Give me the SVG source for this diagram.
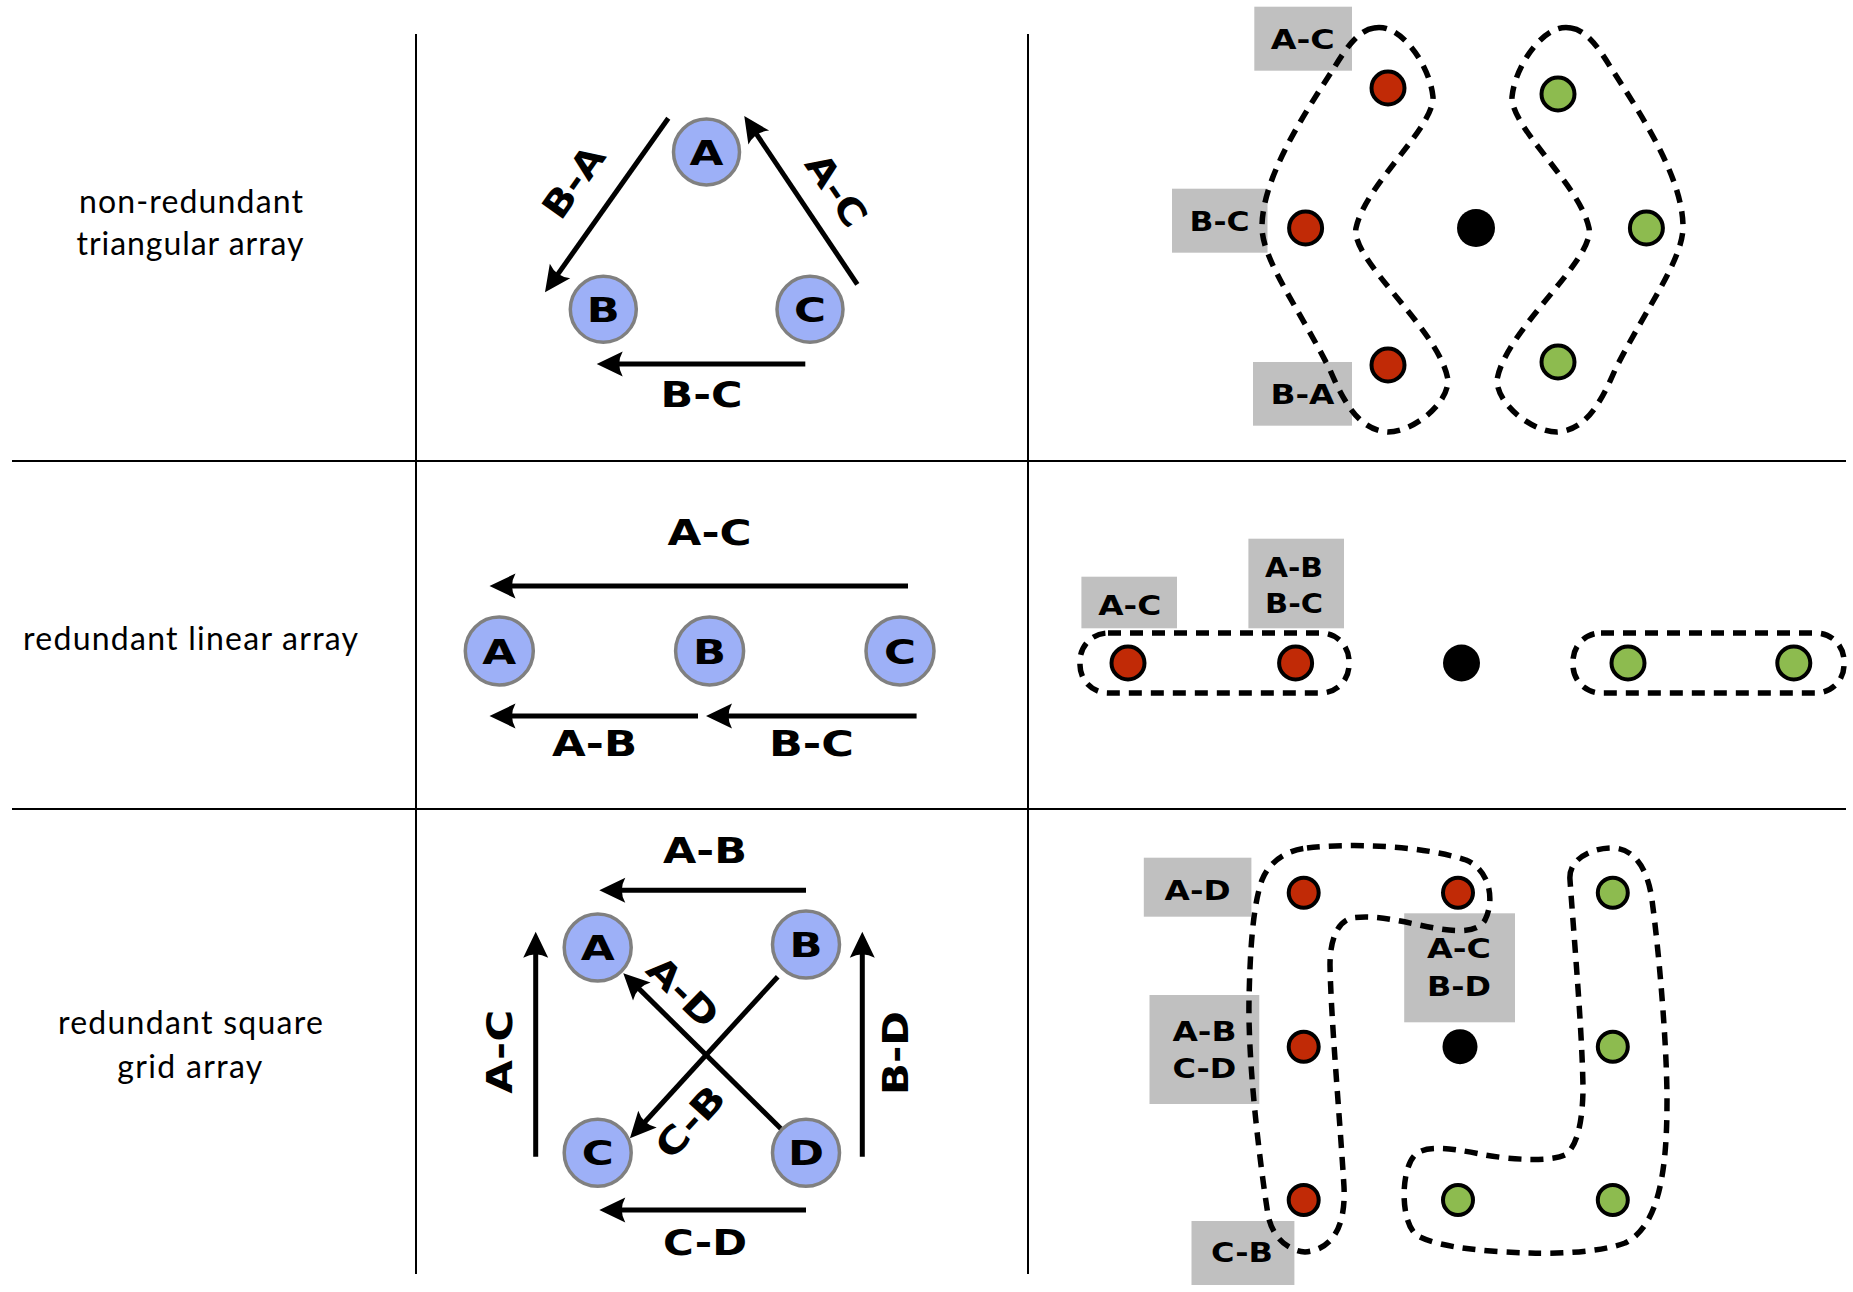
<svg xmlns="http://www.w3.org/2000/svg" width="1853" height="1292" viewBox="0 0 1853 1292">
<defs>
<marker id="ah" markerUnits="userSpaceOnUse" markerWidth="30" markerHeight="30" viewBox="0 -15 30 30" refX="8" refY="0" orient="auto" overflow="visible">
<path d="M26,0 L0,-12.5 Q7,0 0,12.5 Z" fill="#000"/>
</marker>
<style>
.grid{stroke:#000;stroke-width:2}
.row{font-family:Lato,"Open Sans",sans-serif;font-size:32px;fill:#000;text-anchor:middle}
.node circle{fill:#9db0f7;stroke:#808080;stroke-width:3.5}
.node text{font-family:"DejaVu Sans",sans-serif;font-weight:bold;font-size:34px;text-anchor:middle;fill:#000}
.arrow{stroke:#000;stroke-width:5;fill:none;marker-end:url(#ah)}
.lbl{font-family:"DejaVu Sans",sans-serif;font-weight:bold;font-size:36px;text-anchor:middle;fill:#000}
.box rect{fill:#c0c0c0}
.box text{font-family:"DejaVu Sans",sans-serif;font-weight:bold;font-size:27px;text-anchor:middle;fill:#000}
.loop{fill:none;stroke:#000;stroke-width:5.5;stroke-dasharray:13 9}
.red{fill:#c12a06;stroke:#000;stroke-width:4}
.grn{fill:#8dbb4f;stroke:#000;stroke-width:4}
.blk{fill:#000}
</style>
</defs>
<rect width="1853" height="1292" fill="#fff"/>

<g id="grid">
<line class="grid" x1="416" y1="34" x2="416" y2="1274"/>
<line class="grid" x1="1028" y1="34" x2="1028" y2="1274"/>
<line class="grid" x1="12" y1="461" x2="1846" y2="461"/>
<line class="grid" x1="12" y1="809" x2="1846" y2="809"/>
</g>

<g id="row-labels">
<text class="row" x="191" y="212.7" textLength="224">non-redundant</text>
<text class="row" x="190" y="255" textLength="227">triangular array</text>
<text class="row" x="190.6" y="650" textLength="335">redundant linear array</text>
<text class="row" x="190.4" y="1034" textLength="265">redundant square</text>
<text class="row" x="189.8" y="1078" textLength="145">grid array</text>
</g>

<g id="connectors">
<path class="arrow" d="M668.3,118.3 L555.4,277.6"/>
<path class="arrow" d="M857.3,284.3 L754.3,130.9"/>
<path class="arrow" d="M805.3,364 L614.7,364"/>
<path class="arrow" d="M908,586 L507.5,586"/>
<path class="arrow" d="M698,716 L507.5,716"/>
<path class="arrow" d="M916.6,716 L724,716"/>
<path class="arrow" d="M806,890.3 L617.3,890.3"/>
<path class="arrow" d="M806,1210 L617.3,1210"/>
<path class="arrow" d="M535.7,1156.7 L535.7,949.7"/>
<path class="arrow" d="M862.3,1156.7 L862.3,949.7"/>
<path class="arrow" d="M784,1131.7 L636.1,985.9"/>
<path class="arrow" d="M777.7,976.7 L642.1,1125"/>
</g>

<g id="connector-labels">
<text class="lbl" x="701.5" y="406.7" textLength="82" lengthAdjust="spacingAndGlyphs">B-C</text>
<text class="lbl" transform="translate(573.3,181.7) rotate(-54.7)" x="0" y="13" textLength="80" lengthAdjust="spacingAndGlyphs">B-A</text>
<text class="lbl" transform="translate(836.7,190) rotate(56)" x="0" y="13" textLength="80" lengthAdjust="spacingAndGlyphs">A-C</text>
<text class="lbl" x="709.6" y="544.5" textLength="84" lengthAdjust="spacingAndGlyphs">A-C</text>
<text class="lbl" x="594.6" y="756" textLength="85" lengthAdjust="spacingAndGlyphs">A-B</text>
<text class="lbl" x="811.4" y="756" textLength="85" lengthAdjust="spacingAndGlyphs">B-C</text>
<text class="lbl" x="705" y="862.7" textLength="84" lengthAdjust="spacingAndGlyphs">A-B</text>
<text class="lbl" x="705" y="1255" textLength="84" lengthAdjust="spacingAndGlyphs">C-D</text>
<text class="lbl" transform="translate(499,1051.7) rotate(-90)" x="0" y="13" textLength="84" lengthAdjust="spacingAndGlyphs">A-C</text>
<text class="lbl" transform="translate(895,1053) rotate(-90)" x="0" y="13" textLength="84" lengthAdjust="spacingAndGlyphs">B-D</text>
<text class="lbl" transform="translate(683.3,991.7) rotate(44.6)" x="0" y="13" textLength="84" lengthAdjust="spacingAndGlyphs">A-D</text>
<text class="lbl" transform="translate(690,1121.7) rotate(-47.6)" x="0" y="13" textLength="84" lengthAdjust="spacingAndGlyphs">C-B</text>
</g>

<g id="tri-A" class="node"><circle cx="706.5" cy="152" r="33"/><text x="706.5" y="164.5" textLength="34" lengthAdjust="spacingAndGlyphs">A</text></g>
<g id="tri-B" class="node"><circle cx="603.3" cy="309.3" r="33"/><text x="603.3" y="321.8" textLength="33" lengthAdjust="spacingAndGlyphs">B</text></g>
<g id="tri-C" class="node"><circle cx="810" cy="309.3" r="33"/><text x="810" y="321.8" textLength="32" lengthAdjust="spacingAndGlyphs">C</text></g>

<g id="lin-A" class="node"><circle cx="499.3" cy="651" r="34"/><text x="499.3" y="663.5" textLength="34" lengthAdjust="spacingAndGlyphs">A</text></g>
<g id="lin-B" class="node"><circle cx="709.6" cy="651" r="34"/><text x="709.6" y="663.5" textLength="33" lengthAdjust="spacingAndGlyphs">B</text></g>
<g id="lin-C" class="node"><circle cx="900" cy="651" r="34"/><text x="900" y="663.5" textLength="32" lengthAdjust="spacingAndGlyphs">C</text></g>

<g id="sq-A" class="node"><circle cx="597.7" cy="947.5" r="33.5"/><text x="597.7" y="960" textLength="34" lengthAdjust="spacingAndGlyphs">A</text></g>
<g id="sq-B" class="node"><circle cx="806" cy="944.5" r="33.5"/><text x="806" y="957" textLength="33" lengthAdjust="spacingAndGlyphs">B</text></g>
<g id="sq-C" class="node"><circle cx="597.7" cy="1152.7" r="33.5"/><text x="597.7" y="1165.2" textLength="32" lengthAdjust="spacingAndGlyphs">C</text></g>
<g id="sq-D" class="node"><circle cx="806" cy="1152.7" r="33.5"/><text x="806" y="1165.2" textLength="36" lengthAdjust="spacingAndGlyphs">D</text></g>

<g id="tri-uv">
<g class="box">
<rect x="1254.3" y="6.7" width="97.7" height="64"/><text x="1302.7" y="49.3" textLength="64" lengthAdjust="spacingAndGlyphs">A-C</text>
<rect x="1172" y="188.7" width="95.5" height="64"/><text x="1219.5" y="230.7" textLength="60" lengthAdjust="spacingAndGlyphs">B-C</text>
<rect x="1253" y="362" width="99" height="63.7"/><text x="1302.5" y="404.3" textLength="64" lengthAdjust="spacingAndGlyphs">B-A</text>
</g>
<path class="loop" d="M1374,28 C1400,22 1430,65 1433,97 C1434,128 1365,185 1356,228 C1350,260 1440,330 1448,380 C1448,405 1412,432 1388,432 C1360,430 1345,405 1330,370 C1300,310 1262,260 1262,227 C1262,180 1300,120 1334,68 C1345,50 1358,30 1374,28 Z"/>
<path class="loop" transform="matrix(-1,0,0,1,2945,0)" d="M1374,28 C1400,22 1430,65 1433,97 C1434,128 1365,185 1356,228 C1350,260 1440,330 1448,380 C1448,405 1412,432 1388,432 C1360,430 1345,405 1330,370 C1300,310 1262,260 1262,227 C1262,180 1300,120 1334,68 C1345,50 1358,30 1374,28 Z"/>
<circle class="red" cx="1388" cy="88" r="16.5"/>
<circle class="red" cx="1305.6" cy="228" r="16.5"/>
<circle class="red" cx="1388" cy="365" r="16.5"/>
<circle class="blk" cx="1476" cy="228" r="19"/>
<circle class="grn" cx="1558" cy="94" r="16.5"/>
<circle class="grn" cx="1646.4" cy="228" r="16.5"/>
<circle class="grn" cx="1558" cy="362" r="16.5"/>
</g>

<g id="lin-uv">
<g class="box">
<rect x="1081.4" y="576.7" width="95.6" height="51.6"/><text x="1129.7" y="615" textLength="63" lengthAdjust="spacingAndGlyphs">A-C</text>
<rect x="1248.4" y="538.7" width="95.6" height="89.6"/><text x="1294" y="576.7" textLength="58" lengthAdjust="spacingAndGlyphs">A-B</text><text x="1294" y="612.7" textLength="58" lengthAdjust="spacingAndGlyphs">B-C</text>
</g>
<rect class="loop" x="1080" y="633" width="269" height="60" rx="28" ry="28"/>
<rect class="loop" x="1573" y="633" width="271" height="60" rx="28" ry="28"/>
<circle class="red" cx="1128" cy="663" r="16.5"/>
<circle class="red" cx="1295.6" cy="663" r="16.5"/>
<circle class="blk" cx="1461.5" cy="663" r="18.5"/>
<circle class="grn" cx="1628" cy="663" r="16.5"/>
<circle class="grn" cx="1793.8" cy="663" r="16.5"/>
</g>

<g id="sq-uv">
<g class="box">
<rect x="1143.8" y="857.7" width="107.6" height="59"/><text x="1197.6" y="900" textLength="66" lengthAdjust="spacingAndGlyphs">A-D</text>
<rect x="1149.5" y="995" width="109.8" height="109"/><text x="1204.4" y="1040.7" textLength="64" lengthAdjust="spacingAndGlyphs">A-B</text><text x="1204.4" y="1078.3" textLength="64" lengthAdjust="spacingAndGlyphs">C-D</text>
<rect x="1404.2" y="913.3" width="110.8" height="109"/><text x="1459" y="958.3" textLength="64" lengthAdjust="spacingAndGlyphs">A-C</text><text x="1459" y="996" textLength="64" lengthAdjust="spacingAndGlyphs">B-D</text>
<rect x="1191.5" y="1221" width="102.9" height="64"/><text x="1242" y="1261.7" textLength="62" lengthAdjust="spacingAndGlyphs">C-B</text>
</g>
<path class="loop" d="M1307,848 C1350,843 1420,845 1466,860 C1490,870 1495,900 1485,920 C1478,932 1460,932 1440,929 C1410,924 1380,914 1352,918 C1335,922 1330,945 1330,965 C1331,1020 1340,1120 1344,1187 C1346,1230 1330,1250 1305,1252 C1285,1250 1272,1235 1268,1215 C1258,1150 1248,1060 1249,1000 C1250,950 1253,905 1262,880 C1270,860 1288,850 1307,848 Z"/>
<path class="loop" d="M1570,880 C1568,860 1590,848 1612,848 C1635,848 1648,870 1652,900 C1660,960 1667,1050 1667,1100 C1667,1160 1662,1225 1625,1243 C1600,1252 1560,1254 1530,1253 C1490,1252 1440,1248 1418,1236 C1400,1225 1400,1170 1415,1155 C1425,1145 1450,1148 1480,1154 C1510,1160 1550,1162 1565,1155 C1580,1145 1583,1110 1583,1087 C1582,1030 1575,950 1570,880 Z"/>
<circle class="red" cx="1303.7" cy="892.7" r="15"/>
<circle class="red" cx="1458" cy="892.7" r="15"/>
<circle class="red" cx="1303.7" cy="1046.7" r="15"/>
<circle class="red" cx="1303.7" cy="1200" r="15"/>
<circle class="blk" cx="1460" cy="1046.7" r="17.5"/>
<circle class="grn" cx="1612.8" cy="892.7" r="15"/>
<circle class="grn" cx="1612.8" cy="1046.7" r="15"/>
<circle class="grn" cx="1458" cy="1200" r="15"/>
<circle class="grn" cx="1612.8" cy="1200" r="15"/>
</g>
</svg>
